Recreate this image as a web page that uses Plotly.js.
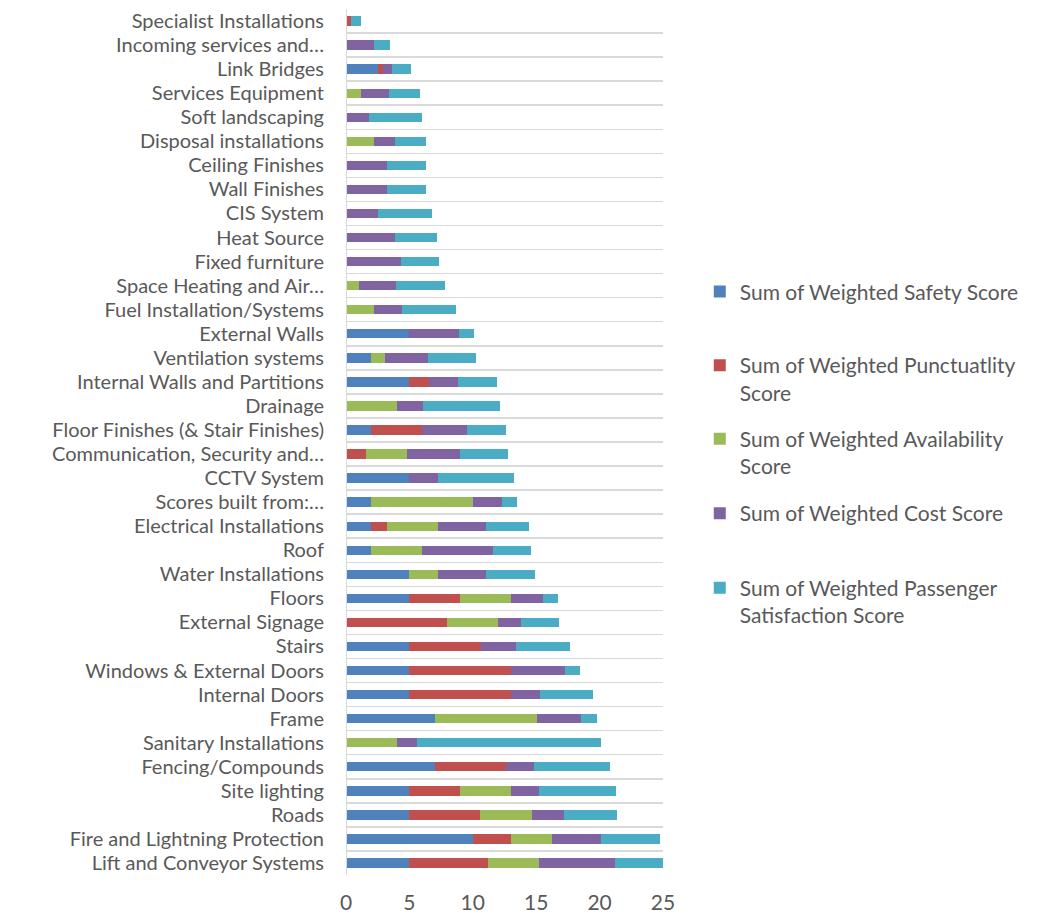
<!DOCTYPE html>
<html>
<head>
<meta charset="utf-8">
<script src="https://cdn.plot.ly/plotly-3.0.1.min.js"></script>
<style>html,body{margin:0;padding:0;background:#fff;}#chart{width:1040px;height:916px;}</style>
</head>
<body>
<div id="chart"></div>
<script>
const categories = [
  "Specialist Installations", "Incoming services and…", "Link Bridges", "Services Equipment",
  "Soft landscaping", "Disposal installations", "Ceiling Finishes", "Wall Finishes",
  "CIS System", "Heat Source", "Fixed furniture", "Space Heating and Air…",
  "Fuel Installation/Systems", "External Walls", "Ventilation systems", "Internal Walls and Partitions",
  "Drainage", "Floor Finishes (& Stair Finishes)", "Communication, Security and…", "CCTV System",
  "Scores built from:…", "Electrical Installations", "Roof", "Water Installations",
  "Floors", "External Signage", "Stairs", "Windows & External Doors",
  "Internal Doors", "Frame", "Sanitary Installations", "Fencing/Compounds",
  "Site lighting", "Roads", "Fire and Lightning Protection", "Lift and Conveyor Systems"
];
const safety = [0,0,2.5,0,0,0,0,0,0,0,0,0,0,5,2,5,0,2,0,5,2,2,2,5,5,0,5,5,5,7,0,7,5,5,10,5];
const punctuality = [0.4,0,0.42,0,0,0,0,0,0,0,0,0,0,0,0,1.58,0,4,1.58,0,0,1.24,0,0,4,8,5.61,8,8,0,0,5.61,4,5.58,2.98,6.22];
const availability = [0,0,0,1.21,0,2.21,0,0,0,0,0,1,2.21,0,1.06,0,4.03,0,3.24,0,8.03,4,4,2.24,4,4,0,0,0,8.03,4.03,0,4,4.06,3.27,4];
const cost = [0,2.24,0.74,2.21,1.82,1.63,3.26,3.26,2.55,3.87,4.34,2.95,2.24,3.9,3.4,2.29,2.08,3.58,4.18,2.27,2.24,3.84,5.56,3.79,2.56,1.82,2.82,4.24,2.26,3.53,1.58,2.24,2.24,2.53,3.84,6];
const passenger = [0.77,1.21,1.5,2.43,4.18,2.43,3.06,3.06,4.21,3.34,3.03,3.82,4.19,1.21,3.8,3,6,3.06,3.77,5.97,1.18,3.35,3,3.85,1.18,3,4.21,1.18,4.24,1.27,14.53,6,6.03,4.21,4.69,4];
const seriesNames = [
  "Sum of Weighted Safety Score",
  "Sum of Weighted Punctuatlity<br>Score",
  "Sum of Weighted Availability<br>Score",
  "Sum of Weighted Cost Score",
  "Sum of Weighted Passenger<br>Satisfaction Score"
];
const seriesColors = ["#4F81BD", "#C0504D", "#9BBB59", "#8064A2", "#4BACC6"];
const xTicks = [0, 5, 10, 15, 20, 25];

const seriesValues = [safety, punctuality, availability, cost, passenger];
const legendIds = ["legend", "legend2", "legend3", "legend4", "legend5"];
const legendY = [0.697, 0.612, 0.527, 0.441, 0.355];

const FONT = "Lato, 'Open Sans', sans-serif";
const TXT = "#595959";

const traces = seriesValues.map((vals, i) => ({
  type: "bar",
  orientation: "h",
  name: seriesNames[i],
  y: categories,
  x: vals,
  legend: legendIds[i],
  marker: {color: seriesColors[i], line: {width: 0}}
}));

const layout = {
  width: 1040, height: 916,
  margin: {l: 346, r: 377, t: 9, b: 41, pad: 0},
  paper_bgcolor: "#fff", plot_bgcolor: "#fff",
  barmode: "stack",
  bargap: 0.61,
  font: {family: FONT, size: 20, color: TXT},
  xaxis: {
    range: [0, 25], tickvals: xTicks, showgrid: false, zeroline: false,
    showline: false, ticks: "", ticklabelstandoff: 13, automargin: false,
    tickfont: {family: FONT, size: 21, color: TXT}, fixedrange: true
  },
  yaxis: {
    type: "category", autorange: "reversed", tickson: "boundaries",
    tickmode: "array", tickvals: categories, ticktext: categories,
    showgrid: true, gridcolor: "#d9d9d9", gridwidth: 1.5, automargin: false,
    showline: false, ticks: "", zeroline: false, ticklabelstandoff: 21,
    tickfont: {family: FONT, size: 20, color: TXT}, fixedrange: true
  },
  shapes: [{type: "line", xref: "x", yref: "paper", x0: 0, x1: 0, y0: 0, y1: 1,
            line: {color: "#d9d9d9", width: 2}}],
  showlegend: true
};
legendIds.forEach((id, i) => {
  layout[id] = {
    x: 1.116, xanchor: "left", y: legendY[i], yanchor: "top",
    bgcolor: "rgba(0,0,0,0)", borderwidth: 0, valign: "top",
    font: {family: FONT, size: 21, color: TXT}
  };
});

Plotly.newPlot("chart", traces, layout, {displayModeBar: false, staticPlot: true});
</script>
</body>
</html>
